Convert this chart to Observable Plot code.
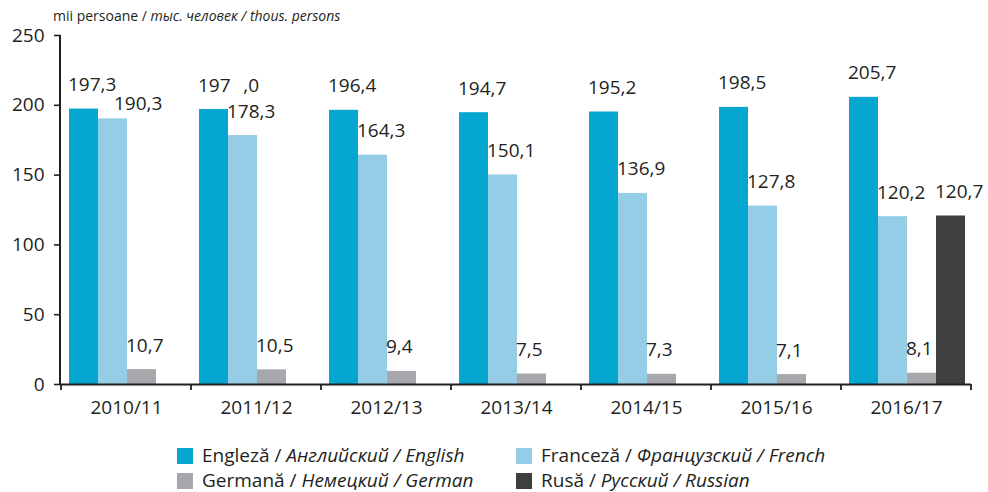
<!DOCTYPE html>
<html>
<head>
<meta charset="utf-8">
<script src="https://cdn.jsdelivr.net/npm/d3@7"></script>
<script src="https://cdn.jsdelivr.net/npm/@observablehq/plot@0.6"></script>
<style>
  html, body { margin: 0; padding: 0; background: #fff; }
  #wrap { position: relative; width: 988px; height: 492px; font-family: "Open Sans", sans-serif; color: #231f20; }
  #units { position: absolute; left: 53px; top: 7px; font-size: 14px; line-height: 18px; white-space: nowrap; }
  #chart { position: absolute; left: 0; top: 24px; }
  .leg { position: absolute; font-size: 19px; line-height: 20px; white-space: nowrap; }
  .leg .sw { position: absolute; left: 0; top: 2px; width: 16px; height: 16px; }
  .leg .tx { position: absolute; left: 25px; top: -1px; }
</style>
</head>
<body>
<div id="wrap">
  <div id="units">mii persoane / <i>тыс. человек / thous. persons</i></div>
  <div id="chart"></div>
  <div id="legend"></div>
</div>
<script>
// ---- data ----
const years = ["2010/11", "2011/12", "2012/13", "2013/14", "2014/15", "2015/16", "2016/17"];
const languages = ["English", "French", "German", "Russian"];
const english = [197.3, 197.0, 196.4, 194.7, 195.2, 198.5, 205.7];
const french  = [190.3, 178.3, 164.3, 150.1, 136.9, 127.8, 120.2];
const german  = [10.7, 10.5, 9.4, 7.5, 7.3, 7.1, 8.1];
const russian = [null, null, null, null, null, null, 120.7];
const yTicks = [0, 50, 100, 150, 200, 250];
const colors = ["#05a6d0", "#95cde6", "#a7a8ab", "#3f3f3f"];
const legendRo = ["Engleză", "Franceză", "Germană", "Rusă"];
const legendRu = ["Английский", "Французский", "Немецкий", "Русский"];
const legendEn = ["English", "French", "German", "Russian"];

const series = [english, french, german, russian];
const data = years.flatMap((yr, i) =>
  series.map((s, j) => ({year: yr, lang: languages[j], value: s[i], english: english[i]}))
).filter(d => d.value != null);

const fmt = v => Number.isInteger(v) ? `${v}\u2002\u2009,0` : d3.format(".1f")(v).replace(".", ",");
const crowded = d => d.lang === "French" && d.english - d.value < 10;

const W = 988, H = 416, mL = 60, mR = 16, mT = 11, mB = 56;
const ink = "#231f20";
const FS = 19;

const plot = Plot.plot({
  width: W, height: H,
  marginLeft: mL, marginRight: mR, marginTop: mT, marginBottom: mB,
  style: {fontFamily: "Open Sans, sans-serif", fontSize: FS + "px", color: ink, background: "white", overflow: "visible"},
  fx: {domain: years, padding: 0, label: null},
  x: {domain: languages, paddingInner: 0, paddingOuter: 0.21, align: 0.6, axis: null},
  y: {domain: [0, 250], label: null},
  color: {domain: languages, range: colors},
  marks: [
    Plot.axisY({ticks: yTicks, tickSize: 7, tickPadding: 10, label: null, stroke: ink, strokeWidth: 1.6, fill: ink, fontSize: FS}),
    Plot.axisFx({anchor: "bottom", tickSize: 0, tickPadding: 16, label: null, fill: ink, fontSize: FS}),
    Plot.barY(data, {fx: "year", x: "lang", y: "value", fill: "lang"}),
    Plot.ruleY([0], {stroke: ink, strokeWidth: 1.8}),
    Plot.text(data.filter(d => !crowded(d)), {
      fx: "year", x: "lang", y: "value", text: d => fmt(d.value),
      textAnchor: "start", dx: -16, dy: -24, fill: ink, fontSize: FS
    }),
    Plot.text(data.filter(crowded), {
      fx: "year", x: "lang", y: "value", text: d => fmt(d.value),
      textAnchor: "start", dx: 1, dy: -15, fill: ink, fontSize: FS
    })
  ]
});
document.getElementById("chart").appendChild(plot);

// axis lines and group boundary ticks from the plot's own scales
const fxS = plot.scale("fx"), yS = plot.scale("y");
const svg = d3.select(plot);
const y0 = yS.apply(0), yTop = yS.apply(250);
svg.append("line").attr("x1", mL).attr("x2", mL).attr("y1", yTop).attr("y2", y0 + 0.9)
  .attr("stroke", ink).attr("stroke-width", 2);
const bounds = years.map(yr => fxS.apply(yr));
bounds.push(fxS.apply(years[years.length - 1]) + fxS.bandwidth);
svg.append("g").selectAll("line").data(bounds).join("line")
  .attr("x1", d => d).attr("x2", d => d).attr("y1", y0).attr("y2", y0 + 6)
  .attr("stroke", ink).attr("stroke-width", 1.8);

// legend
const legPos = [[177, 446], [516, 446], [177, 471], [516, 471]];
const leg = document.getElementById("legend");
languages.forEach((l, i) => {
  const div = document.createElement("div");
  div.className = "leg";
  div.style.left = legPos[i][0] + "px";
  div.style.top = legPos[i][1] + "px";
  div.innerHTML = `<span class="sw" style="background:${colors[i]}"></span><span class="tx">${legendRo[i]} / <i>${legendRu[i]} / ${legendEn[i]}</i></span>`;
  leg.appendChild(div);
});
</script>
</body>
</html>
